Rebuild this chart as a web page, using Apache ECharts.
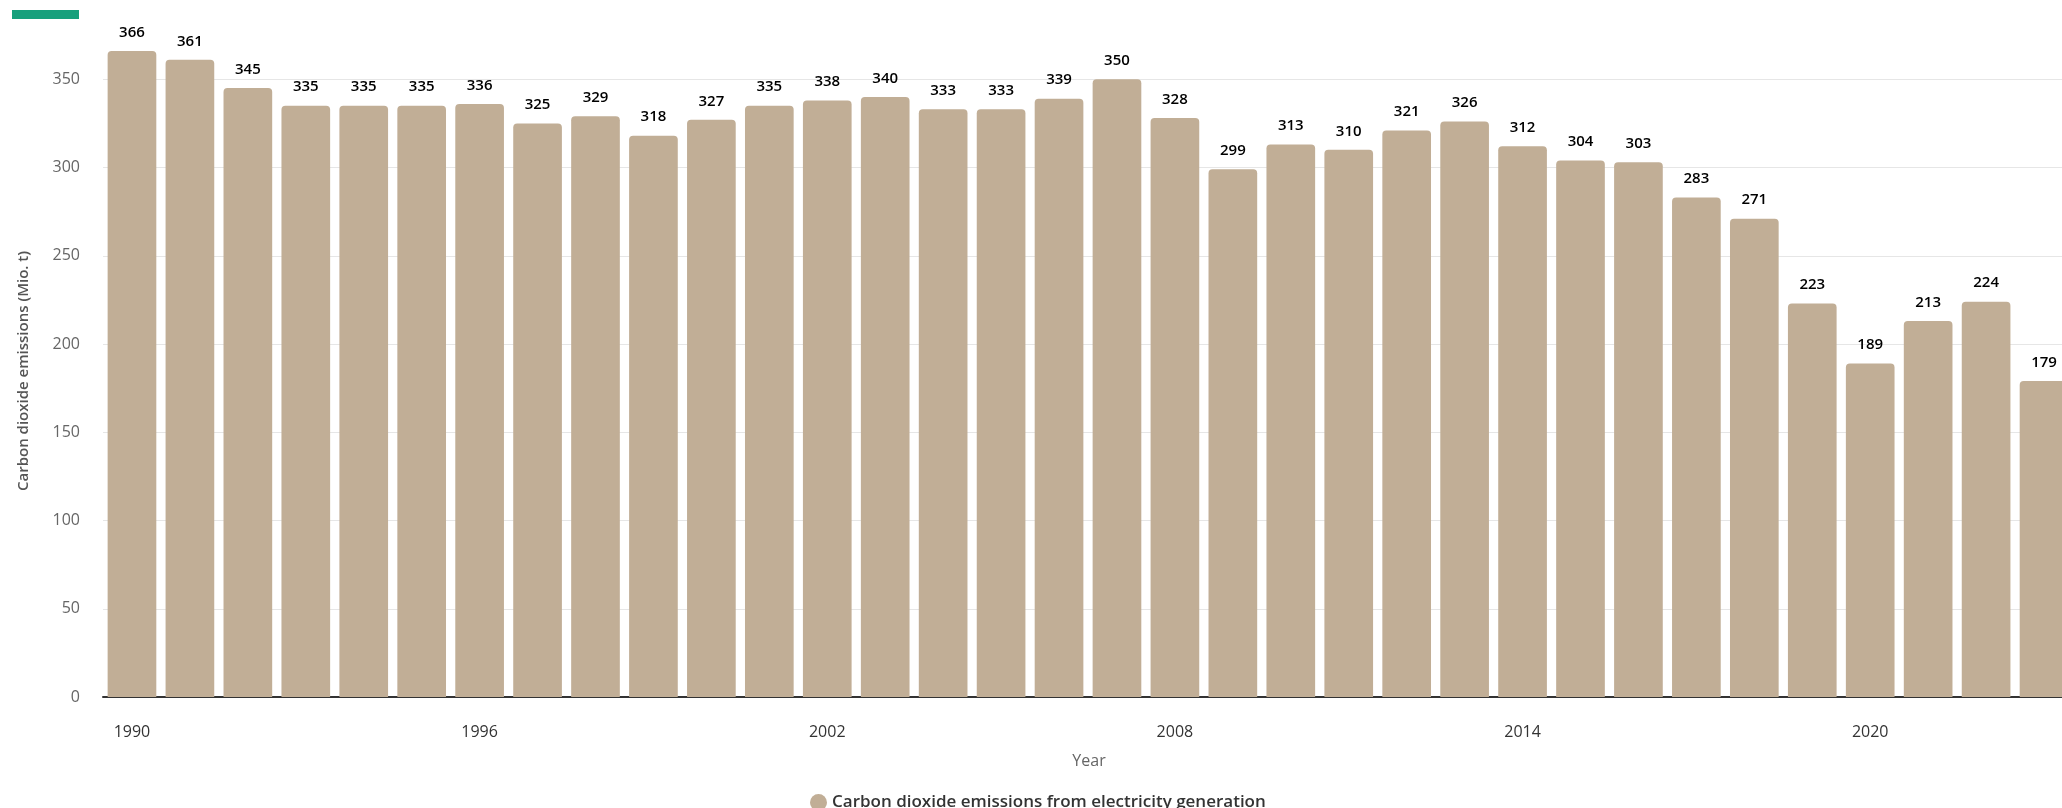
<!DOCTYPE html>
<html>
<head>
<meta charset="utf-8">
<script src="https://cdn.jsdelivr.net/npm/echarts@6/dist/echarts.min.js"></script>
<style>
html,body{margin:0;padding:0;background:#fff;}
#chart{width:2062px;height:808px;}
</style>
</head>
<body>
<div id="chart"></div>
<script>
const years = ['1990','1991','1992','1993','1994','1995','1996','1997','1998','1999','2000','2001','2002','2003','2004','2005','2006','2007','2008','2009','2010','2011','2012','2013','2014','2015','2016','2017','2018','2019','2020','2021','2022','2023'];
const emissions = [366,361,345,335,335,335,336,325,329,318,327,335,338,340,333,333,339,350,328,299,313,310,321,326,312,304,303,283,271,223,189,213,224,179];
const seriesName = 'Carbon dioxide emissions from electricity generation';
const yAxisTitle = 'Carbon dioxide emissions (Mio. t)';
const xAxisTitle = 'Year';

const chart = echarts.init(document.getElementById('chart'));
const font = '"Open Sans", "Noto Sans", sans-serif';
chart.setOption({
  animation: false,
  textStyle: {fontFamily: font},
  grid: {left: 103, right: -11, top: -9, bottom: 111, containLabel: false, outerBoundsMode: 'none'},
  xAxis: {
    type: 'category',
    data: years,
    axisLine: {lineStyle: {color: '#333', width: 2}},
    axisTick: {show: false},
    axisLabel: {interval: 5, color: '#333', fontSize: 16, margin: 27, fontFamily: font}
  },
  yAxis: {
    type: 'value',
    min: 0, max: 400, interval: 50,
    axisLine: {show: false},
    axisTick: {show: false},
    splitLine: {lineStyle: {color: '#e6e6e6', width: 1}},
    axisLabel: {color: '#666', fontSize: 16, margin: 23, fontFamily: font,
      formatter: v => (v >= 400 ? '' : String(v))}
  },
  legend: {
    data: [seriesName],
    left: 805, top: 789,
    icon: 'circle', itemWidth: 17, itemHeight: 17, itemGap: 8,
    textStyle: {color: '#333', fontSize: 17, fontWeight: 600, fontFamily: font}
  },
  graphic: [
    {type: 'rect', shape: {x: 12, y: 10, width: 67, height: 9}, style: {fill: '#17a07c'}},
    {type: 'text', x: 1089, y: 761, style: {text: xAxisTitle, fill: '#666', fontSize: 16, fontFamily: font, textAlign: 'center', textVerticalAlign: 'middle'}},
    {type: 'text', x: 24, y: 371, rotation: Math.PI/2, style: {text: yAxisTitle, fill: '#555', fontSize: 15, fontWeight: 600, fontFamily: font, textAlign: 'center', textVerticalAlign: 'middle'}}
  ],
  series: [{
    name: seriesName,
    type: 'bar',
    data: emissions,
    barCategoryGap: '16%',
    itemStyle: {color: '#c1ae96', borderRadius: [4,4,0,0]},
    label: {show: true, position: 'top', distance: 11, color: '#000', fontSize: 15, fontWeight: 600, fontFamily: font}
  }]
});
</script>
</body>
</html>
